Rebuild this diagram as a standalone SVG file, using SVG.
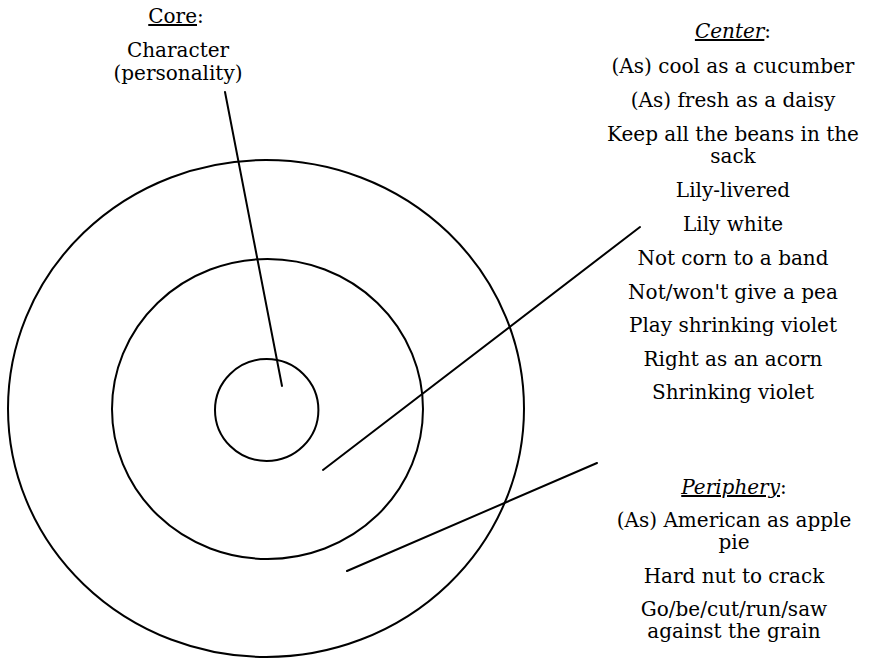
<svg xmlns="http://www.w3.org/2000/svg" width="871" height="660" viewBox="0 0 871 660">
<style>
  .ring { fill: none; stroke: #000; stroke-width: 2; }
  .lead { stroke: #000; stroke-width: 2; stroke-linecap: round; }
  .lbl { font-family: "DejaVu Serif", "Liberation Serif", serif; font-size: 20px; fill: #000; text-anchor: middle; }
  .u { text-decoration: underline; }
  .i { font-style: italic; }
</style>
<rect width="871" height="660" fill="#fff"/>
<g id="outer-ring"><ellipse class="ring" cx="266" cy="408.5" rx="258" ry="248.5"/></g>
<g id="middle-ring"><ellipse class="ring" cx="267.5" cy="409" rx="155.5" ry="150"/></g>
<g id="inner-ring"><ellipse class="ring" cx="266.7" cy="410" rx="51.7" ry="51"/></g>
<g id="connectors">
  <line class="lead" x1="225" y1="92" x2="282" y2="386"/>
  <line class="lead" x1="640" y1="227" x2="323" y2="470"/>
  <line class="lead" x1="597" y1="463" x2="347" y2="571"/>
</g>
<g id="core-label" class="lbl">
  <text x="176" y="23"><tspan class="u">Core</tspan>:</text>
  <text x="178" y="57">Character</text>
  <text x="178" y="80">(personality)</text>
</g>
<g id="center-label" class="lbl">
  <text x="733" y="38"><tspan class="u i">Center</tspan>:</text>
  <text x="733" y="73">(As) cool as a cucumber</text>
  <text x="733" y="107">(As) fresh as a daisy</text>
  <text x="733" y="141">Keep all the beans in the</text>
  <text x="733" y="163">sack</text>
  <text x="733" y="197">Lily-livered</text>
  <text x="733" y="231">Lily white</text>
  <text x="733" y="265">Not corn to a band</text>
  <text x="733" y="299">Not/won't give a pea</text>
  <text x="733" y="332">Play shrinking violet</text>
  <text x="733" y="366">Right as an acorn</text>
  <text x="733" y="399">Shrinking violet</text>
</g>
<g id="periphery-label" class="lbl">
  <text x="734" y="494"><tspan class="u i">Periphery</tspan>:</text>
  <text x="734" y="527">(As) American as apple</text>
  <text x="734" y="549">pie</text>
  <text x="734" y="583">Hard nut to crack</text>
  <text x="734" y="616">Go/be/cut/run/saw</text>
  <text x="734" y="638">against the grain</text>
</g>
</svg>
